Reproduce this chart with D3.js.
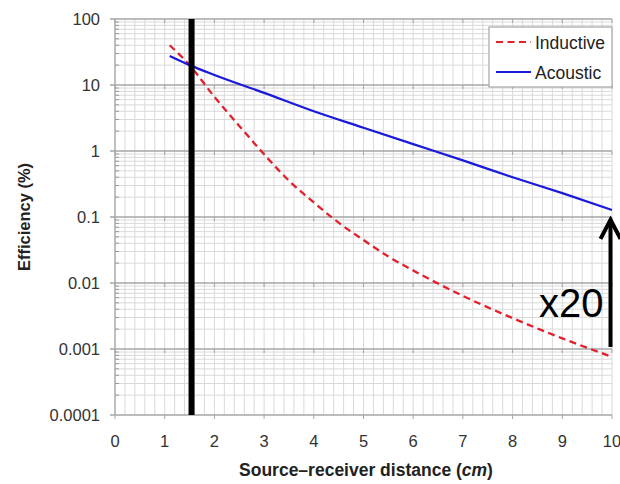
<!DOCTYPE html>
<html>
<head>
<meta charset="utf-8">
<script src="https://cdn.jsdelivr.net/npm/d3@7"></script>
<style>
  body { margin: 0; background: #fff; }
  text { font-family: "Liberation Sans", Arial, sans-serif; }
</style>
</head>
<body>
<svg id="chart" width="620" height="484"></svg>
<script>
// distances (cm)
const inductiveX = [1.1, 1.5, 2, 2.5, 3, 3.5, 4, 4.5, 5, 5.5, 6, 7, 8, 9, 10];
const inductiveY = [40, 20, 6.6, 2.4, 0.89, 0.355, 0.166, 0.082, 0.0448, 0.0252, 0.0155, 0.00637, 0.00294, 0.00145, 0.00076];
const acousticX = [1.1, 1.5, 2, 3, 4, 5, 6, 7, 8, 9, 10];
const acousticY = [27.5, 20, 14.2, 7.6, 4.0, 2.25, 1.27, 0.72, 0.40, 0.23, 0.128];
const xTicks = [0, 1, 2, 3, 4, 5, 6, 7, 8, 9, 10];
const yTicks = [100, 10, 1, 0.1, 0.01, 0.001, 0.0001];
const yTickLabels = ["100", "10", "1", "0.1", "0.01", "0.001", "0.0001"];
const seriesNames = ["Inductive", "Acoustic"];
const markerX = 1.54;          // thick vertical line
const arrowX = 9.97;           // "x20" arrow
const arrowFrom = 0.00107, arrowTo = 0.097;
const arrowLabel = "x20";

const svg = d3.select("#chart");
const pLeft = 115, pRight = 612, pTop = 19, pBottom = 415;

let x = d3.scaleLinear().domain([0, 10]).range([pLeft, pRight]);
let y = d3.scaleLog().domain([0.0001, 100]).range([pBottom, pTop]);

let grid = svg.append("g");

// vertical minor grid every 0.2
d3.range(0, 10.001, 0.2).forEach((v) => {
  grid.append("line")
    .attr("x1", x(v)).attr("x2", x(v))
    .attr("y1", pTop).attr("y2", pBottom)
    .attr("stroke", "#d9d9d9").attr("stroke-width", 1);
});

// horizontal minor grid 2..9 in each decade
yTicks.slice(1).forEach((d) => {
  for (let k = 2; k <= 9; k++) {
    grid.append("line")
      .attr("x1", pLeft).attr("x2", pRight)
      .attr("y1", y(d * k)).attr("y2", y(d * k))
      .attr("stroke", "#d9d9d9").attr("stroke-width", 1);
    // minor tick inside left axis
    grid.append("line")
      .attr("x1", pLeft).attr("x2", pLeft + 4)
      .attr("y1", y(d * k)).attr("y2", y(d * k))
      .attr("stroke", "#999").attr("stroke-width", 1);
  }
});

// decade lines with small ticks at integers
yTicks.forEach((d) => {
  grid.append("line")
    .attr("x1", pLeft - 5).attr("x2", pRight)
    .attr("y1", y(d)).attr("y2", y(d))
    .attr("stroke", "#a6a6a6").attr("stroke-width", 1.3);
  xTicks.forEach((t) => {
    grid.append("line")
      .attr("x1", x(t)).attr("x2", x(t))
      .attr("y1", y(d)).attr("y2", y(d) + 4)
      .attr("stroke", "#a6a6a6").attr("stroke-width", 1);
  });
});

// left axis line
grid.append("line")
  .attr("x1", pLeft).attr("x2", pLeft)
  .attr("y1", pTop).attr("y2", pBottom)
  .attr("stroke", "#a6a6a6").attr("stroke-width", 1.3);

// tick labels
svg.append("g").selectAll("text")
  .data(yTicks)
  .enter().append("text")
  .attr("x", pLeft - 15)
  .attr("y", (d) => y(d) + 6)
  .attr("text-anchor", "end")
  .attr("font-size", 16.5)
  .attr("fill", "#333")
  .text((d, i) => yTickLabels[i]);

svg.append("g").selectAll("text")
  .data(xTicks)
  .enter().append("text")
  .attr("x", (d) => x(d))
  .attr("y", pBottom + 32)
  .attr("text-anchor", "middle")
  .attr("font-size", 16.5)
  .attr("fill", "#333")
  .text((d) => d);

// axis titles
let xt = svg.append("text")
  .attr("x", 366).attr("y", 476)
  .attr("text-anchor", "middle")
  .attr("font-size", 17.5)
  .attr("font-weight", "bold")
  .attr("fill", "#222");
xt.append("tspan").text("Source\u2013receiver distance (");
xt.append("tspan").attr("font-style", "italic").text("cm");
xt.append("tspan").text(")");

svg.append("text")
  .attr("transform", "translate(30," + (pTop + pBottom) / 2 + ") rotate(-90)")
  .attr("text-anchor", "middle")
  .attr("font-size", 16.5)
  .attr("font-weight", "bold")
  .attr("fill", "#222")
  .text("Efficiency (%)");

// series
let line = d3.line().x((d) => x(d[0])).y((d) => y(d[1])).curve(d3.curveMonotoneX);

svg.append("path")
  .datum(inductiveX.map((v, i) => [v, inductiveY[i]]))
  .attr("d", line)
  .attr("fill", "none")
  .attr("stroke", "#e3202b")
  .attr("stroke-width", 2.3)
  .attr("stroke-dasharray", "7,4.5");

svg.append("path")
  .datum(acousticX.map((v, i) => [v, acousticY[i]]))
  .attr("d", line)
  .attr("fill", "none")
  .attr("stroke", "#1a1adc")
  .attr("stroke-width", 2.2);

// thick vertical marker
svg.append("line")
  .attr("x1", x(markerX)).attr("x2", x(markerX))
  .attr("y1", y(100)).attr("y2", y(0.0001))
  .attr("stroke", "#000").attr("stroke-width", 6);

// arrow
let ax = x(arrowX), ay0 = y(arrowFrom), ay1 = y(arrowTo);
svg.append("line")
  .attr("x1", ax).attr("x2", ax)
  .attr("y1", ay0).attr("y2", ay1 + 2)
  .attr("stroke", "#000").attr("stroke-width", 4);
svg.append("path")
  .attr("d", d3.line()([[ax - 10, ay1 + 21], [ax, ay1 + 2], [ax + 10, ay1 + 21]]))
  .attr("fill", "none")
  .attr("stroke", "#000").attr("stroke-width", 4)
  .attr("stroke-linejoin", "miter");
svg.append("text")
  .attr("x", ax - 7).attr("y", 317)
  .attr("text-anchor", "end")
  .attr("font-size", 40)
  .attr("fill", "#000")
  .text(arrowLabel);

// legend
let lg = svg.append("g");
lg.append("rect")
  .attr("x", 489).attr("y", 27)
  .attr("width", 123).attr("height", 60)
  .attr("fill", "#fff").attr("stroke", "#a6a6a6").attr("stroke-width", 1.2);
seriesNames.forEach((name, i) => {
  let ly = 42 + i * 30;
  lg.append("line")
    .attr("x1", 496).attr("x2", 531)
    .attr("y1", ly).attr("y2", ly)
    .attr("stroke", i === 0 ? "#e3202b" : "#1a1adc")
    .attr("stroke-width", 2.2)
    .attr("stroke-dasharray", i === 0 ? "7,4.5" : null);
  lg.append("text")
    .attr("x", 535).attr("y", ly + 6.5)
    .attr("font-size", 17.5)
    .attr("fill", "#222")
    .text(name);
});
</script>
</body>
</html>
